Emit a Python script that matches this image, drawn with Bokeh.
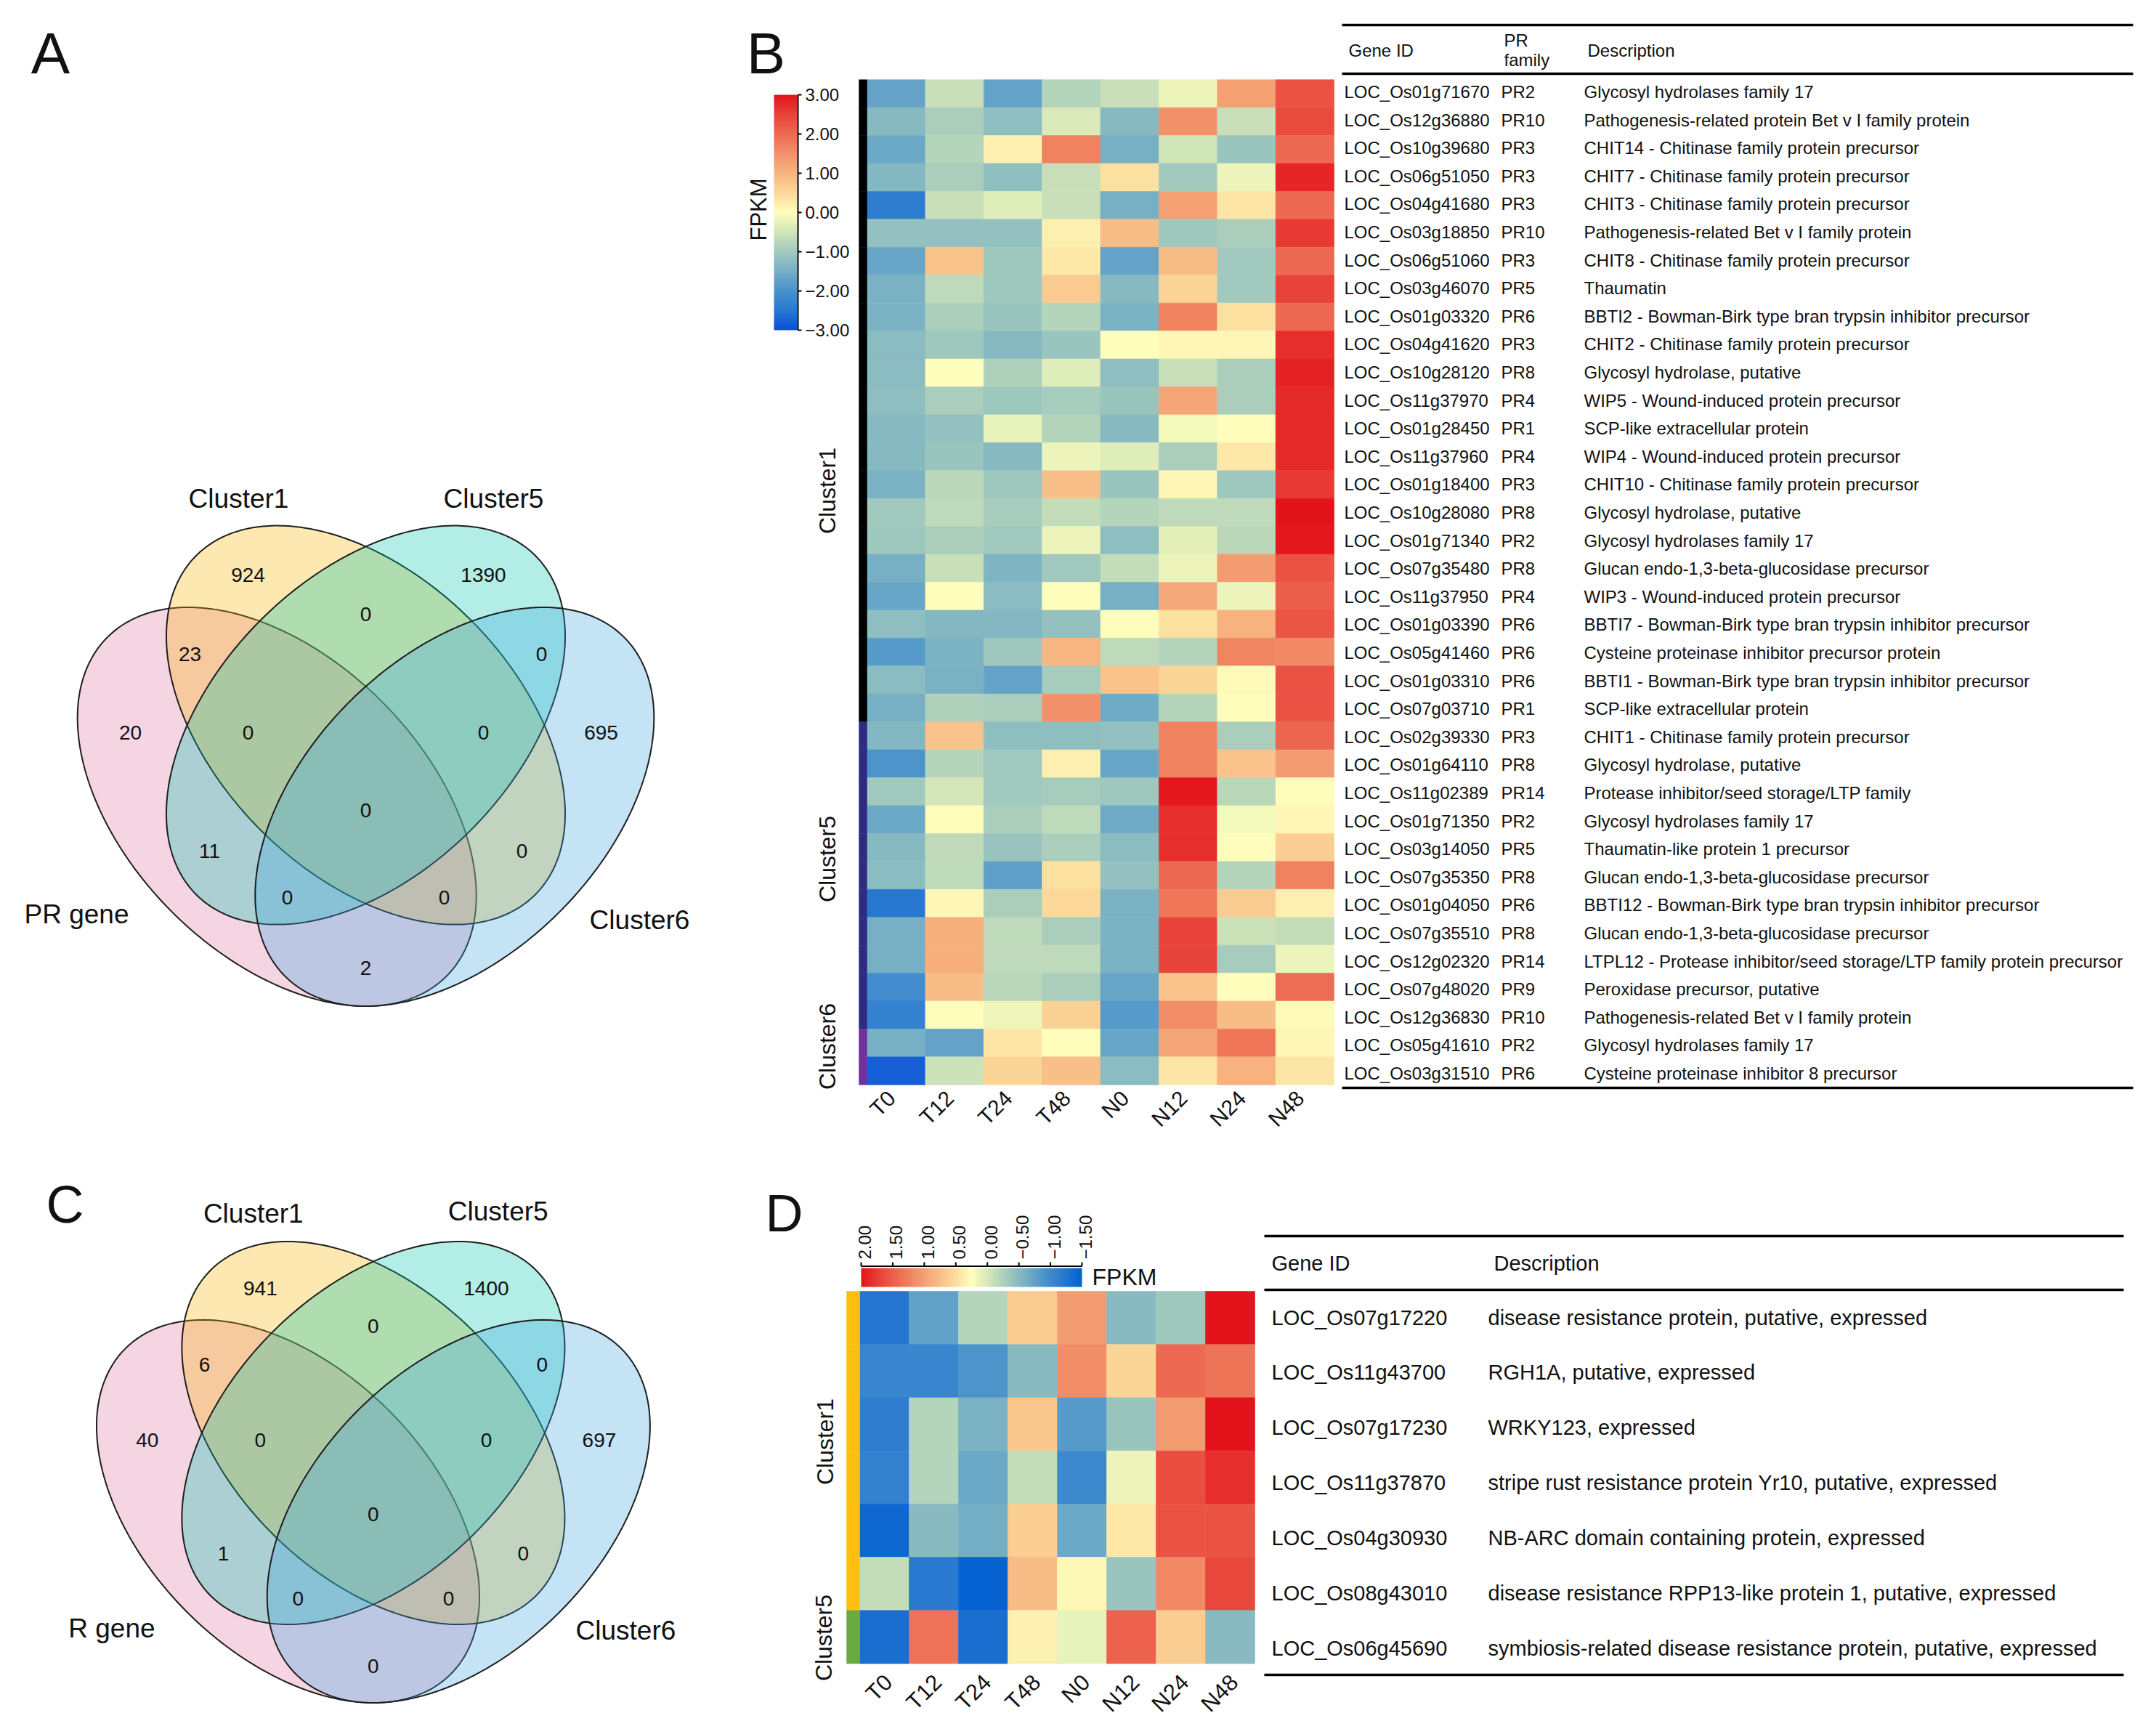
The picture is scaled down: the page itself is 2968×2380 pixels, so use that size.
import numpy as np
from bokeh.plotting import figure
from bokeh.models import ColumnDataSource, Range1d, LinearColorMapper
from bokeh.transform import transform
from bokeh.core.properties import value
from bokeh.embed import file_html
from bokeh.resources import INLINE

# ======================= DATA =======================
time_points = ["T0", "T12", "T24", "T48", "N0", "N12", "N24", "N48"]

# ---- Panel B : PR genes ----
pr_gene_ids = ["LOC_Os01g71670", "LOC_Os12g36880", "LOC_Os10g39680", "LOC_Os06g51050",
               "LOC_Os04g41680", "LOC_Os03g18850", "LOC_Os06g51060", "LOC_Os03g46070",
               "LOC_Os01g03320", "LOC_Os04g41620", "LOC_Os10g28120", "LOC_Os11g37970",
               "LOC_Os01g28450", "LOC_Os11g37960", "LOC_Os01g18400", "LOC_Os10g28080",
               "LOC_Os01g71340", "LOC_Os07g35480", "LOC_Os11g37950", "LOC_Os01g03390",
               "LOC_Os05g41460", "LOC_Os01g03310", "LOC_Os07g03710", "LOC_Os02g39330",
               "LOC_Os01g64110", "LOC_Os11g02389", "LOC_Os01g71350", "LOC_Os03g14050",
               "LOC_Os07g35350", "LOC_Os01g04050", "LOC_Os07g35510", "LOC_Os12g02320",
               "LOC_Os07g48020", "LOC_Os12g36830", "LOC_Os05g41610", "LOC_Os03g31510"]
pr_family = ["PR2", "PR10", "PR3", "PR3", "PR3", "PR10", "PR3", "PR5", "PR6", "PR3", "PR8", "PR4",
             "PR1", "PR4", "PR3", "PR8", "PR2", "PR8", "PR4", "PR6", "PR6", "PR6", "PR1", "PR3",
             "PR8", "PR14", "PR2", "PR5", "PR8", "PR6", "PR8", "PR14", "PR9", "PR10", "PR2", "PR6"]
pr_description = [
    "Glycosyl hydrolases family 17",
    "Pathogenesis-related protein Bet v I family protein",
    "CHIT14 - Chitinase family protein precursor",
    "CHIT7 - Chitinase family protein precursor",
    "CHIT3 - Chitinase family protein precursor",
    "Pathogenesis-related Bet v I family protein",
    "CHIT8 - Chitinase family protein precursor",
    "Thaumatin",
    "BBTI2 - Bowman-Birk type bran trypsin inhibitor precursor",
    "CHIT2 - Chitinase family protein precursor",
    "Glycosyl hydrolase, putative",
    "WIP5 - Wound-induced protein precursor",
    "SCP-like extracellular protein",
    "WIP4 - Wound-induced protein precursor",
    "CHIT10 - Chitinase family protein precursor",
    "Glycosyl hydrolase, putative",
    "Glycosyl hydrolases family 17",
    "Glucan endo-1,3-beta-glucosidase precursor",
    "WIP3 - Wound-induced protein precursor",
    "BBTI7 - Bowman-Birk type bran trypsin inhibitor precursor",
    "Cysteine proteinase inhibitor precursor protein",
    "BBTI1 - Bowman-Birk type bran trypsin inhibitor precursor",
    "SCP-like extracellular protein",
    "CHIT1 - Chitinase family protein precursor",
    "Glycosyl hydrolase, putative",
    "Protease inhibitor/seed storage/LTP family",
    "Glycosyl hydrolases family 17",
    "Thaumatin-like protein 1 precursor",
    "Glucan endo-1,3-beta-glucosidase precursor",
    "BBTI12 - Bowman-Birk type bran trypsin inhibitor precursor",
    "Glucan endo-1,3-beta-glucosidase precursor",
    "LTPL12 - Protease inhibitor/seed storage/LTP family protein precursor",
    "Peroxidase precursor, putative",
    "Pathogenesis-related Bet v I family protein",
    "Glycosyl hydrolases family 17",
    "Cysteine proteinase inhibitor 8 precursor"]
pr_cluster = ["Cluster1"] * 23 + ["Cluster5"] * 11 + ["Cluster6"] * 2

pr_T0 = [-1.7, -1.3, -1.6, -1.35, -2.4, -1.15, -1.65, -1.45, -1.45, -1.25, -1.25, -1.2, -1.3, -1.3, -1.45, -1.0, -1.05, -1.5,
         -1.65, -1.2, -1.85, -1.25, -1.5, -1.35, -1.95, -1.0, -1.6, -1.3, -1.25, -2.5, -1.5, -1.5, -2.1, -2.3, -1.5, -2.8]
pr_T12 = [-0.6, -0.9, -0.8, -0.9, -0.6, -1.15, 0.8, -0.7, -0.9, -1.05, 0.0, -0.9, -1.15, -1.1, -0.75, -0.7, -0.9, -0.6,
          0.0, -1.35, -1.45, -1.45, -0.85, 0.8, -0.8, -0.45, 0.0, -0.7, -0.7, 0.1, 1.1, 1.1, 0.9, 0.0, -1.7, -0.55]
pr_T24 = [-1.7, -1.2, 0.2, -1.2, -0.35, -1.15, -1.05, -1.05, -1.1, -1.3, -0.85, -1.05, -0.25, -1.3, -1.05, -0.95, -1.0, -1.4,
          -1.25, -1.35, -1.05, -1.7, -0.9, -1.2, -1.0, -1.0, -0.9, -1.1, -1.75, -0.9, -0.7, -0.7, -0.75, -0.15, 0.35, 0.55]
pr_T48 = [-0.8, -0.4, 1.7, -0.6, -0.6, 0.2, 0.3, 0.7, -0.8, -1.1, -0.35, -0.95, -0.8, -0.2, 0.85, -0.65, -0.2, -1.0,
          0.0, -1.15, 1.0, -0.95, 1.5, -1.2, 0.2, -0.95, -0.7, -0.9, 0.4, 0.5, -0.9, -0.7, -0.9, 0.6, 0.0, 0.85]
pr_N0 = [-0.6, -1.3, -1.5, 0.4, -1.5, 0.9, -1.7, -1.3, -1.45, 0.0, -1.2, -1.1, -1.3, -0.35, -1.1, -0.8, -1.2, -0.65,
         -1.5, 0.0, -0.7, 0.8, -1.55, -1.15, -1.65, -1.05, -1.55, -1.25, -1.15, -1.45, -1.45, -1.45, -1.65, -1.85, -1.65, -1.25]
pr_N12 = [-0.2, 1.5, -0.5, -1.0, 1.3, -1.05, 0.9, 0.55, 1.7, 0.1, -0.6, 1.2, -0.1, -0.9, 0.1, -0.7, -0.3, -0.2,
          1.15, 0.4, -0.8, 0.55, -0.8, 1.7, 1.7, 2.95, 2.7, 2.7, 2.0, 1.85, 2.5, 2.5, 0.8, 1.55, 1.2, 0.35]
pr_N24 = [1.3, -0.6, -1.1, -0.2, 0.35, -0.9, -1.0, -1.0, 0.4, 0.1, -0.9, -0.9, 0.0, 0.3, -1.05, -0.7, -0.75, 1.35,
          -0.2, 1.05, 1.65, 0.05, 0.0, -0.9, 0.8, -0.75, -0.1, 0.0, -0.8, 0.7, -0.55, -0.95, 0.0, 0.9, 1.85, 1.05]
pr_N48 = [2.3, 2.4, 2.0, 2.8, 2.0, 2.6, 2.0, 2.5, 2.0, 2.7, 2.85, 2.75, 2.75, 2.75, 2.6, 3.0, 2.95, 2.3,
          2.15, 2.25, 1.6, 2.3, 2.3, 2.05, 1.35, 0.0, 0.1, 0.65, 1.7, 0.2, -0.65, -0.2, 1.95, 0.05, 0.1, 0.35]
pr_ticks = [3.0, 2.0, 1.0, 0.0, -1.0, -2.0, -3.0]

# ---- Panel D : R genes ----
r_gene_ids = ["LOC_Os07g17220", "LOC_Os11g43700", "LOC_Os07g17230", "LOC_Os11g37870",
              "LOC_Os04g30930", "LOC_Os08g43010", "LOC_Os06g45690"]
r_description = ["disease resistance protein, putative, expressed",
                 "RGH1A, putative, expressed",
                 "WRKY123, expressed",
                 "stripe rust resistance protein Yr10, putative, expressed",
                 "NB-ARC domain containing protein, expressed",
                 "disease resistance RPP13-like protein 1, putative, expressed",
                 "symbiosis-related disease resistance protein, putative, expressed"]
r_cluster = ["Cluster1", "Cluster1", "Cluster1", "Cluster1", "Cluster1", "Cluster1", "Cluster5"]
r_T0 = [-1.24, -1.06, -1.15, -1.10, -1.41, -0.12, -1.33]
r_T12 = [-0.75, -1.06, -0.22, -0.22, -0.49, -1.19, 1.35]
r_T24 = [-0.22, -0.89, -0.59, -0.68, -0.63, -1.50, -1.33]
r_T48 = [0.65, -0.49, 0.70, -0.12, 0.62, 0.78, 0.35]
r_N0 = [1.04, 1.16, -0.83, -1.01, -0.68, 0.30, 0.11]
r_N12 = [-0.49, 0.57, -0.38, 0.13, 0.42, -0.38, 1.47]
r_N24 = [-0.36, 1.42, 1.04, 1.62, 1.60, 1.18, 0.64]
r_N48 = [2.00, 1.34, 2.00, 1.83, 1.60, 1.68, -0.49]
r_ticks = [2.0, 1.5, 1.0, 0.5, 0.0, -0.5, -1.0, -1.5]

# ---- Venn counts (regions: 1 only, 2 only, 3 only, 4 only, 12, 23, 34, 123, 234, 1234, 13, 24, 134, 124, 14) ----
venn_A_sets = ["PR gene", "Cluster1", "Cluster5", "Cluster6"]
venn_A_counts = [20, 924, 1390, 695, 23, 0, 0, 0, 0, 0, 11, 0, 0, 0, 2]
venn_C_sets = ["R gene", "Cluster1", "Cluster5", "Cluster6"]
venn_C_counts = [40, 941, 1400, 697, 6, 0, 0, 0, 0, 0, 1, 0, 0, 0, 0]

# ======================= LAYOUT / STYLE =======================
FONT = "Liberation Sans"
W, H = 2950, 2362
X0, X1, Y0, Y1 = 0, W, 0, H


def xr(i0, p0, i1, p1):
    s = (p1 - p0) / (i1 - i0)
    return Range1d(start=i0 + (X0 - p0) / s, end=i0 + (X1 - p0) / s)


def yr(i0, p0, i1, p1):
    s = (p1 - p0) / (i1 - i0)
    return Range1d(start=i0 + (Y1 - p0) / s, end=i0 + (Y0 - p0) / s)


def hex2rgb(h):
    return [int(h[k:k + 2], 16) for k in (1, 3, 5)]


def build_palette(stops, n=256):
    pos = np.array([s[0] for s in stops])
    rgb = np.array([hex2rgb(s[1]) for s in stops], float)
    out = []
    for t in np.linspace(0, 1, n):
        c = [int(round(np.interp(t, pos, rgb[:, k]))) for k in range(3)]
        out.append("#%02x%02x%02x" % tuple(c))
    return out


stop_cols = ["#0a4fd8", "#2878d0", "#4a92cc", "#76afc4", "#a2c9bd", "#d1e5b8", "#fefebd",
             "#fcd99a", "#f7b582", "#f2926a", "#ed6a52", "#e8443a", "#e3131c"]
stops_pos = np.linspace(0, 1, len(stop_cols))
pal_B = build_palette(list(zip(stops_pos, stop_cols)))
pal_D = build_palette(list(zip(stops_pos, ["#0562d0"] + stop_cols[1:])))
map_B = LinearColorMapper(palette=pal_B, low=-3, high=3)
map_D = LinearColorMapper(palette=pal_D, low=-1.5, high=2.0)

p = figure(width=W, height=H, x_range=Range1d(X0, X1), y_range=Range1d(Y1, Y0),
           output_backend="svg", toolbar_location=None, x_axis_location=None, y_axis_location=None,
           min_border=0, outline_line_color=None, background_fill_color="white",
           border_fill_color="white")
p.grid.visible = False

p.extra_x_ranges = {
    "bx": xr(-0.5, 1193, 7.5, 1836),
    "dx": xr(-0.5, 1183, 7.5, 1727),
    "vAx": xr(0, 503, 1, 504),
    "vCx": xr(0, 513.4, 1, 514.36),
    "cbDx": xr(2.0, 1185, -1.5, 1489),
}
p.extra_y_ranges = {
    "by": yr(-0.5, 109.2, 35.5, 1492.8),
    "bty": yr(0, 126, 35, 1477),
    "dy": yr(-0.5, 1777, 6.5, 2289.5),
    "dty": yr(0, 1813, 6, 2268),
    "vAy": yr(0, 997.6, 1, 996.6),
    "vCy": yr(0, 1972, 1, 1971.04),
    "cbBy": yr(3, 130, -3, 454),
    "yup": yr(0, 0, -1, 1),
}


def txt(x, y, text, size, align="left", baseline="middle", angle=0.0, xr_name="default",
        yr_name="default", color="#111111", x_offset=0):
    src = ColumnDataSource(dict(x=list(x), y=list(y), t=list(text)))
    p.text(x="x", y="y", text="t", source=src, text_font=value(FONT), text_font_size=size,
           text_align=align, text_baseline=baseline, angle=angle, text_color=color,
           x_range_name=xr_name, y_range_name=yr_name, x_offset=x_offset)


# ---------------- panel letters ----------------
txt([69, 1054], [73, 73], ["A", "B"], "80px", align="center")
txt([89, 1079], [1657, 1669], ["C", "D"], "72px", align="center")

# ---------------- Venn diagrams ----------------
A_AX, B_AX = 330.0, 204.5
ell_params = [(-122.3, -112.4, 135), (0.0, 0.0, 135), (0.0, 0.0, 45), (122.3, -112.4, 45)]
venn_fill = ["#de739e", "#f8b400", "#00c3ac", "#3aa5e1"]
region_xy = [(-324, -10), (-162, 207), (162, 207), (324, -10), (-242, 98), (0, 153), (242, 98),
             (-162, -10), (162, -10), (0, -117), (-215, -173), (215, -173), (-108, -237),
             (108, -237), (0, -334)]


def ellipse_pts(cx, cy, a, b, ang, n=360):
    t = np.linspace(0, 2 * np.pi, n)
    th = np.radians(ang)
    xs = cx + a * np.cos(t) * np.cos(th) - b * np.sin(t) * np.sin(th)
    ys = cy + a * np.cos(t) * np.sin(th) + b * np.sin(t) * np.cos(th)
    return list(xs), list(ys)


def draw_venn(xn, yn, counts, sets, set_xy):
    for i, (cx, cy, ang) in enumerate(ell_params):
        ex, ey = ellipse_pts(cx, cy, A_AX, B_AX, ang)
        p.patch(ex, ey, fill_color=venn_fill[i], fill_alpha=0.3, line_color="#1e1e1e",
                line_width=2, x_range_name=xn, y_range_name=yn)
    txt([q[0] for q in region_xy], [q[1] for q in region_xy], [str(c) for c in counts], "28px",
        align="center", xr_name=xn, yr_name=yn)
    txt([q[0] for q in set_xy], [q[1] for q in set_xy], sets, "37px", align="center",
        xr_name=xn, yr_name=yn)


draw_venn("vAx", "vAy", venn_A_counts, venn_A_sets, [(-398, -260), (-175, 312), (176, 312), (377, -268)])
draw_venn("vCx", "vCy", venn_C_counts, venn_C_sets, [(-375, -280), (-172, 315), (179, 318), (362, -283)])

# ---------------- Panel B heatmap ----------------
pr_cols = [pr_T0, pr_T12, pr_T24, pr_T48, pr_N0, pr_N12, pr_N24, pr_N48]
hx, hy, hv = [], [], []
for j, col in enumerate(pr_cols):
    for i, v in enumerate(col):
        hx.append(j)
        hy.append(i)
        hv.append(v)
srcB = ColumnDataSource(dict(x=hx, y=hy, v=hv))
p.rect(x="x", y="y", width=1, height=1, source=srcB, fill_color=transform("v", map_B),
       line_color=transform("v", map_B), line_width=0.6, x_range_name="bx", y_range_name="by")

clusB_colors = {"Cluster1": "#000000", "Cluster5": "#2e2a86", "Cluster6": "#7030a0"}
barw_B = 11 / 80.375
srcCB = ColumnDataSource(dict(y=list(range(len(pr_cluster))),
                              c=[clusB_colors[c] for c in pr_cluster]))
p.rect(x=-0.5 - barw_B / 2, y="y", width=barw_B, height=1, source=srcCB, fill_color="c",
       line_color="c", line_width=0.5, x_range_name="bx", y_range_name="by")
txt([1138, 1138, 1138], [675, 1182, 1440], ["Cluster1", "Cluster5", "Cluster6"], "32px",
    align="center", angle=np.pi / 2)

# x labels
txt([j - 0.08 for j in range(len(time_points))], [1506] * len(time_points), time_points, "30px",
    align="right", angle=np.pi / 4, xr_name="bx")

# colour bar B
gradB = np.linspace(-3, 3, 256).reshape(-1, 1)
p.image(image=[gradB], x=1065, y=-3, dw=32, dh=6, color_mapper=map_B, y_range_name="cbBy")
p.segment(x0=1098, y0=-3, x1=1098, y1=3, line_color="black", line_width=2, y_range_name="cbBy")
p.segment(x0=[1098] * len(pr_ticks), y0=pr_ticks, x1=[1103] * len(pr_ticks), y1=pr_ticks,
          line_color="black", line_width=2, y_range_name="cbBy")
txt([1108] * len(pr_ticks), pr_ticks, [("%.2f" % t).replace("-", "\u2212") for t in pr_ticks],
    "24px", yr_name="cbBy")
txt([1044], [288], ["FPKM"], "31px", align="center", angle=np.pi / 2)

# table B
for yv in (34, 101, 1497):
    p.segment(x0=1847, y0=yv, x1=2936, y1=yv, line_color="black", line_width=3.5)
txt([1856, 2185], [69, 69], ["Gene ID", "Description"], "24px")
txt([2070, 2070], [55, 82], ["PR", "family"], "24px")
rowsB = list(range(len(pr_gene_ids)))
txt([1850] * len(rowsB), rowsB, pr_gene_ids, "24px", yr_name="bty")
txt([2066] * len(rowsB), rowsB, pr_family, "24px", yr_name="bty")
txt([2180] * len(rowsB), rowsB, pr_description, "24px", yr_name="bty")

# ---------------- Panel D heatmap ----------------
r_cols = [r_T0, r_T12, r_T24, r_T48, r_N0, r_N12, r_N24, r_N48]
dxl, dyl, dvl = [], [], []
for j, col in enumerate(r_cols):
    for i, v in enumerate(col):
        dxl.append(j)
        dyl.append(i)
        dvl.append(v)
srcD = ColumnDataSource(dict(x=dxl, y=dyl, v=dvl))
p.rect(x="x", y="y", width=1, height=1, source=srcD, fill_color=transform("v", map_D),
       line_color=transform("v", map_D), line_width=0.6, x_range_name="dx", y_range_name="dy")

clusD_colors = {"Cluster1": "#fdbf0f", "Cluster5": "#6aaa45"}
barw_D = 18 / 68.0
srcCD = ColumnDataSource(dict(y=list(range(len(r_cluster))),
                              c=[clusD_colors[c] for c in r_cluster]))
p.rect(x=-0.5 - barw_D / 2, y="y", width=barw_D, height=1, source=srcCD, fill_color="c",
       line_color="c", line_width=0.5, x_range_name="dx", y_range_name="dy")
txt([1135, 1133], [1984, 2254], ["Cluster1", "Cluster5"], "32px", align="center", angle=np.pi / 2)

txt([j + 0.08 for j in range(len(time_points))], [2310] * len(time_points), time_points, "31px",
    align="right", angle=np.pi / 4, xr_name="dx")

# colour bar D (horizontal, labels above)
gradD = np.linspace(2.0, -1.5, 256).reshape(1, -1)
p.image(image=[gradD], x=1185, y=-1771, dw=304, dh=26, color_mapper=map_D, y_range_name="yup")
p.segment(x0=2.0, y0=1742.5, x1=-1.5, y1=1742.5, line_color="black", line_width=2, x_range_name="cbDx")
p.segment(x0=r_ticks, y0=[1742.5] * len(r_ticks), x1=r_ticks, y1=[1737] * len(r_ticks),
          line_color="black", line_width=2, x_range_name="cbDx")
txt(r_ticks, [1733] * len(r_ticks), [("%.2f" % t).replace("-", "\u2212") for t in r_ticks], "24px",
    align="left", angle=np.pi / 2, xr_name="cbDx", x_offset=5)
txt([1503], [1757], ["FPKM"], "32px")

# table D
for yv in (1701, 1775, 2305):
    p.segment(x0=1740, y0=yv, x1=2923, y1=yv, line_color="black", line_width=3.5)
txt([1750, 2056], [1738, 1738], ["Gene ID", "Description"], "29px")
rowsD = list(range(len(r_gene_ids)))
txt([1750] * len(rowsD), rowsD, r_gene_ids, "29px", yr_name="dty")
txt([2048] * len(rowsD), rowsD, r_description, "29px", yr_name="dty")

open("out.html", "w").write(file_html(p, INLINE, "PR and R genes"))
